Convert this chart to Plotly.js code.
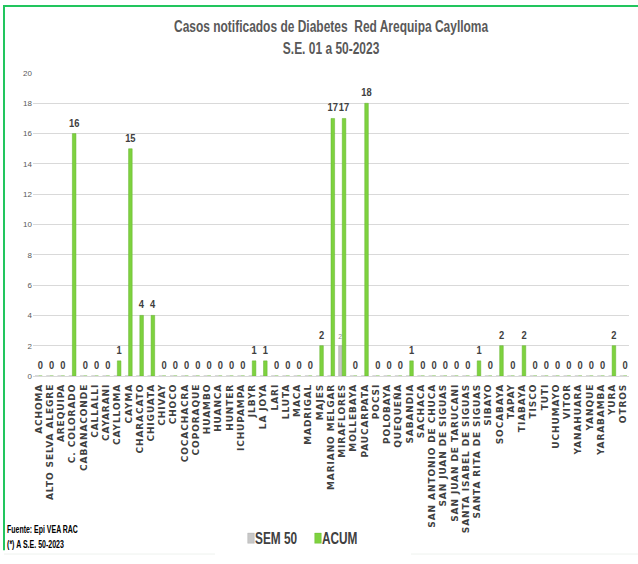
<!DOCTYPE html>
<html>
<head>
<meta charset="utf-8">
<script src="https://cdn.plot.ly/plotly-3.0.1.min.js"></script>
<style>
html,body{margin:0;padding:0;background:#fff;}
#chart{width:638px;height:564px;}
#chart .xtick text{letter-spacing:0.9px;}
</style>
</head>
<body>
<div id="chart"></div>
<script>
const categories = ["ACHOMA","ALTO SELVA ALEGRE","AREQUIPA","C. COLORADO","CABANACONDE","CALLALLI","CAYARANI","CAYLLOMA","CAYMA","CHARACATO","CHIGUATA","CHIVAY","CHOCO","COCACHACRA","COPORAQUE","HUAMBO","HUANCA","HUNTER","ICHUPAMPA","JLBYR","LA JOYA","LARI","LLUTA","MACA","MADRIGAL","MAJES","MARIANO MELGAR","MIRAFLORES","MOLLEBAYA","PAUCARPATA","POCSI","POLOBAYA","QUEQUEÑA","SABANDIA","SACHACA","SAN ANTONIO DE CHUCA","SAN JUAN DE SIGUAS","SAN JUAN DE TARUCANI","SANTA ISABEL DE SIGUAS","SANTA RITA DE SIGUAS","SIBAYO","SOCABAYA","TAPAY","TIABAYA","TISCO","TUTI","UCHUMAYO","VITOR","YANAHUARA","YANQUE","YARABAMBA","YURA","OTROS"];
const sem50 = [0,0,0,0,0,0,0,0,0,0,0,0,0,0,0,0,0,0,0,0,0,0,0,0,0,0,0,2,0,0,0,0,0,0,0,0,0,0,0,0,0,0,0,0,0,0,0,0,0,0,0,0,0];
const acum  = [0,0,0,16,0,0,0,1,15,4,4,0,0,0,0,0,0,0,0,1,1,0,0,0,0,2,17,17,0,18,0,0,0,1,0,0,0,0,0,1,0,2,0,2,0,0,0,0,0,0,0,2,0];
const yTicks = [0,2,4,6,8,10,12,14,16,18,20];

const W = 638, H = 564;
const M = {l:33, r:9, t:73, b:183};
const pw = W - M.l - M.r, ph = H - M.t - M.b;
const px = x => (x - M.l) / pw;
const py = y => (H - M.b - y) / ph;

const SANS = "Liberation Sans, Arial, sans-serif";

const traces = [
  {
    type:"bar", name:"SEM 50", x:categories, y:sem50,
    marker:{color:"#c8c8c8", line:{color:"#a6a6a6", width:0.5}},
    text: sem50.map(v => v > 0 ? String(v) : ""),
    textposition:"outside", cliponaxis:false, constraintext:"none",
    textfont:{family:SANS, size:8, color:"#8c8c8c"},
    hoverinfo:"x+y"
  },
  {
    type:"bar", name:"ACUM", x:categories, y:acum,
    marker:{color:"#7ed23f", line:{color:"#62b22c", width:0.5}},
    text: acum.map(v => String(v)),
    textposition:"outside", cliponaxis:false, constraintext:"none",
    textfont:{family:SANS, size:11, color:"#404040", weight:700},
    hoverinfo:"x+y"
  }
];

const layout = {
  width:W, height:H,
  margin:M,
  paper_bgcolor:"#ffffff", plot_bgcolor:"#ffffff",
  barmode:"group", bargap:0.36, bargroupgap:0,
  showlegend:true,
  title:{
    text:"Casos notificados de Diabetes  Red Arequipa Caylloma<br>S.E. 01 a 50-2023",
    x:0.5, xref:"paper", xanchor:"center", y:0.943, yanchor:"top",
    font:{family:SANS, size:17, color:"#595959", weight:700}
  },
  xaxis:{
    type:"category", tickangle:-90, showgrid:false, zeroline:false,
    showline:false, ticks:"", ticklabelstandoff:5,
    tickfont:{family:"DejaVu Sans, Verdana, sans-serif", size:9, color:"#404040", weight:700},
    automargin:false
  },
  yaxis:{
    range:[0,20], tickvals:yTicks, showgrid:true, gridcolor:"#d9d9d9", gridwidth:1,
    zeroline:true, zerolinecolor:"#d9d9d9", zerolinewidth:1,
    ticks:"", showline:false,
    tickfont:{family:SANS, size:8, color:"#595959"},
    automargin:false
  },
  legend:{
    orientation:"h", x:px(215), xanchor:"left", y:py(546), yanchor:"middle",
    font:{family:SANS, size:16, color:"#404040", weight:700},
    tracegroupgap:0
  },
  annotations:[
    {xref:"paper", yref:"paper", x:px(5), y:py(537), xanchor:"left", yanchor:"middle", showarrow:false,
     text:"Fuente: Epi VEA RAC", font:{family:SANS, size:11, color:"#000000", weight:700}},
    {xref:"paper", yref:"paper", x:px(5), y:py(552), xanchor:"left", yanchor:"middle", showarrow:false,
     text:"(*) A S.E. 50-2023", font:{family:SANS, size:11, color:"#000000", weight:700}}
  ],
  shapes:[
    {type:"line", xref:"paper", yref:"paper", x0:px(4), x1:px(638), y0:py(5), y1:py(5), line:{color:"#22c55e", width:2}},
    {type:"line", xref:"paper", yref:"paper", x0:px(4), x1:px(4), y0:py(4), y1:py(558), line:{color:"#22c55e", width:2}},
    {type:"line", xref:"paper", yref:"paper", x0:px(4), x1:px(638), y0:py(562), y1:py(562), line:{color:"#eef2ee", width:1}}
  ]
};

// horizontal condensing of a text element (mimics the narrow font of the original)
function condense(el, s, anchor) {
  const b = el.getBBox();
  const ax = anchor === "center" ? b.x + b.width / 2 : b.x;
  const prev = el.getAttribute("transform") || "";
  el.setAttribute("transform", (prev + " translate(" + ax + ",0) scale(" + s + ",1) translate(" + (-ax) + ",0)").trim());
}
function addTransform(el, tr) {
  const prev = el.getAttribute("transform") || "";
  el.setAttribute("transform", (prev + " " + tr).trim());
}

Plotly.newPlot("chart", traces, layout, {displayModeBar:false, staticPlot:true}).then(gd => {
  const t = gd.querySelector(".gtitle");
  if (t) { const w = t.getBBox().width; condense(t, 315 / w, "center"); }
  const ann = gd.querySelectorAll(".annotation-text");
  const annW = [71, 57];
  ann.forEach((el, i) => { const w = el.getBBox().width; condense(el, annW[i] / w, "left"); });
  gd.querySelectorAll(".legendtext").forEach(el => condense(el, 0.74, "left"));
  gd.querySelectorAll(".legendsymbols .legendpoints path").forEach(el => addTransform(el, "translate(16,0) scale(0.55,0.85)"));
  // tighten spacing between the two legend entries
  const items = gd.querySelectorAll(".legend .traces");
  if (items.length > 1) {
    const m0 = /translate\(\s*([-\d.]+)[ ,]+([-\d.]+)/.exec(items[0].getAttribute("transform") || "");
    const m1 = /translate\(\s*([-\d.]+)[ ,]+([-\d.]+)/.exec(items[1].getAttribute("transform") || "");
    if (m0 && m1) items[1].setAttribute("transform", "translate(" + (parseFloat(m0[1]) + 67) + "," + m1[2] + ")");
  }
  gd.querySelectorAll(".bartext").forEach(el => { addTransform(el, "translate(0,-5)"); condense(el, 0.85, "center"); });
});
</script>
</body>
</html>
